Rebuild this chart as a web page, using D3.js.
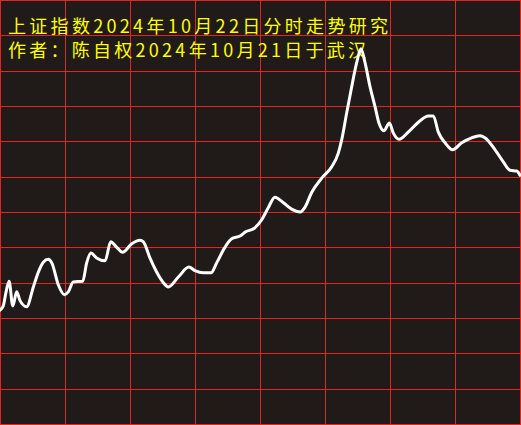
<!DOCTYPE html>
<html>
<head>
<meta charset="utf-8">
<script src="https://cdn.jsdelivr.net/npm/d3@7"></script>
<style>
html,body{margin:0;padding:0;background:#201b19;}
svg{display:block;}
</style>
</head>
<body>
<svg id="chart" width="521" height="425"></svg>
<script>
// Title lines
const titleLines = ["上证指数2024年10月22日分时走势研究", "作者：陈自权2024年10月21日于武汉"];
// Minute index of each sampled point (0 = 9:30, 240 = 15:00)
const minutes = [0,1.5,2.8,4.2,5.9,7.7,9.2,12.3,15.4,17.7,20,22.3,23.9,26.9,29.7,31.5,33.8,38.2,40,42,44.6,48.5,51.1,53.9,56.6,60.8,64.6,66.1,69.2,72.3,75.4,77.7,82.3,87.2,90,93.8,97.4,100,103.8,106.9,110.8,113.4,117.4,120.8,123.8,126.9,130.8,134.6,138.5,140.8,143.9,148.5,153.1,156.1,157.7,160,162.3,164.6,166.6,168.5,170.8,173.1,174.9,177.2,179.7,181.5,184.2,188.4,193.1,197.7,200,202.3,205.4,208.9,213.1,217.7,221.5,223.8,228.5,232.3,235.4,238.5,240];
// Percent change vs previous close
const pctChange = [-1.39,-1.33,-1.13,-0.98,-1.33,-1.13,-1.25,-1.34,-1.06,-0.85,-0.71,-0.67,-0.72,-1.03,-1.17,-1.13,-0.99,-0.98,-0.72,-0.58,-0.65,-0.69,-0.42,-0.50,-0.57,-0.45,-0.40,-0.42,-0.65,-0.85,-1.00,-1.06,-0.92,-0.78,-0.83,-0.86,-0.86,-0.72,-0.50,-0.38,-0.34,-0.28,-0.23,-0.11,0.06,0.21,0.13,0.04,0.00,0.07,0.28,0.48,0.64,0.83,1.02,1.40,1.77,2.11,2.31,2.11,1.77,1.49,1.26,1.15,1.26,1.12,1.03,1.13,1.27,1.36,1.36,1.13,0.98,0.88,0.98,1.05,1.08,1.05,0.88,0.71,0.59,0.58,0.52];
// Grid ticks
const xGridTicks = [0,30,60,90,120,150,180,210,240];
const yGridTicks = [-3,-2.5,-2,-1.5,-1,-0.5,0,0.5,1,1.5,2,2.5,3];

const svg = d3.select("#chart");
const W = 520, H = 424;
const x = d3.scaleLinear().domain([0,240]).range([0,W]);
const y = d3.scaleLinear().domain([-3,3]).range([H,0]);

svg.append("rect").attr("x",0).attr("y",0).attr("width",521).attr("height",425).attr("fill","#201b19");

const g = svg.append("g");
g.selectAll("line.h").data(yGridTicks).enter().append("line")
  .attr("class","h")
  .attr("x1",0).attr("x2",W+1)
  .attr("y1",d=>Math.round(y(d))+0.5).attr("y2",d=>Math.round(y(d))+0.5)
  .attr("stroke","#e8221c").attr("stroke-width",1.2).attr("shape-rendering","crispEdges");
g.selectAll("line.v").data(xGridTicks).enter().append("line")
  .attr("class","v")
  .attr("y1",0).attr("y2",H+1)
  .attr("x1",d=>Math.round(x(d))+0.5).attr("x2",d=>Math.round(x(d))+0.5)
  .attr("stroke",(d,i)=> (i%2===1) ? "#c8342c" : "#e8221c")
  .attr("stroke-width",1.2).attr("shape-rendering","crispEdges");

// title text
const tx = svg.append("g").attr("fill","#ffff00")
  .attr("font-family","'Noto Sans CJK SC', 'Noto Sans', sans-serif")
  .attr("font-size",18);
tx.append("text").attr("x",8).attr("y",33).attr("textLength",380).attr("lengthAdjust","spacing").text(titleLines[0]);
tx.append("text").attr("x",8).attr("y",57).attr("textLength",358).attr("lengthAdjust","spacing").text(titleLines[1]);

const data = minutes.map((m,i)=>({m, v:pctChange[i]}));
const line = d3.line().x(d=>x(d.m)).y(d=>y(d.v)).curve(d3.curveMonotoneX);
svg.append("path").datum(data).attr("d",line)
  .attr("fill","none").attr("stroke","#ffffff").attr("stroke-width",3)
  .attr("stroke-linejoin","round").attr("stroke-linecap","round");
</script>
</body>
</html>
